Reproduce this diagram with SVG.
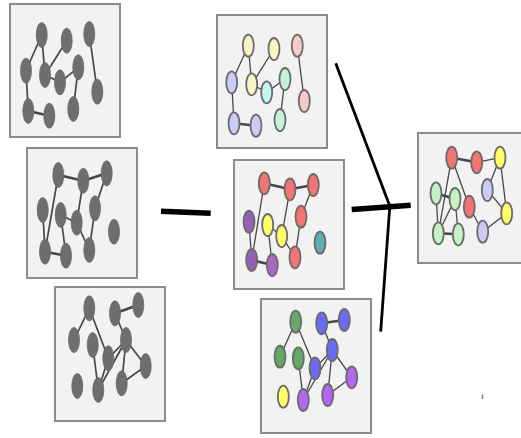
<svg xmlns="http://www.w3.org/2000/svg" width="521" height="438" viewBox="0 0 521 438">
<style>
.panel{fill:#f2f2f2;stroke:#8c8c8c;stroke-width:2}
.e{stroke:#474747;stroke-width:1.3;fill:none}
.t{stroke:#474747;stroke-width:2.6;fill:none}
.g .e{stroke-width:1.7}
.g ellipse{fill:#6e6e6e;stroke:#6a6a6a;stroke-width:0.8}
.c ellipse{stroke:#6b6b6b;stroke-width:1.8}
.conn{stroke:#000;fill:none;stroke-linecap:butt}
.yl{fill:#f7f7c4}.pk{fill:#f7caca}.lv{fill:#cccbf7}.cy{fill:#c4f7f2}.mn{fill:#c4f2d9}
.rd{fill:#f47373}.dp{fill:#9462b2}.ye{fill:#ffff6a}.tl{fill:#62adad}.pp{fill:#a868c2}
.gr{fill:#66a866}.bl{fill:#6b6bf7}.vi{fill:#b266f2}.lg{fill:#c4f2c4}
</style>

<!-- Panel 1 -->
<g id="panel1" class="g">
<rect class="panel" x="10" y="4" width="110" height="133"/>
<path class="e" d="M41.7 35L26 70.7M41.7 35L45 75M66.7 40.7L45 75M45 75L60 82.3M60 82.3L78.3 67.3M78.3 67.3L73.3 109M89.3 34L97.3 91.7M26 70.7L28.3 111"/>
<path class="t" d="M28.3 111L49.3 115.7"/>
<ellipse cx="41.7" cy="35" rx="5.5" ry="12.5"/>
<ellipse cx="66.7" cy="40.7" rx="5.5" ry="12.5"/>
<ellipse cx="89.3" cy="34" rx="5.5" ry="12.5"/>
<ellipse cx="26" cy="70.7" rx="5.5" ry="12.5"/>
<ellipse cx="45" cy="75" rx="5.5" ry="12.5"/>
<ellipse cx="60" cy="82.3" rx="5.5" ry="12.5"/>
<ellipse cx="78.3" cy="67.3" rx="5.5" ry="12.5"/>
<ellipse cx="97.3" cy="91.7" rx="5.5" ry="12.5"/>
<ellipse cx="28.3" cy="111" rx="5.5" ry="12.5"/>
<ellipse cx="49.3" cy="115.7" rx="5.5" ry="12.5"/>
<ellipse cx="73.3" cy="109" rx="5.5" ry="12.5"/>
</g>

<!-- Panel 2 -->
<g id="panel2" class="g">
<rect class="panel" x="27" y="148" width="110" height="130"/>
<path class="e" d="M58.3 175L45 251.7M42.7 210L45 251.7M60.7 215L76.7 222.7M60.7 215L66 255.7M83.3 180.7L76.7 222.7M76.7 222.7L89.3 250M106.7 173.3L95 208.3M95 208.3L89.3 250"/>
<path class="t" d="M58.3 175L83.3 180.7M83.3 180.7L106.7 173.3M45 251.7L66 255.7"/>
<ellipse cx="58.3" cy="175" rx="5.5" ry="12.5"/>
<ellipse cx="83.3" cy="180.7" rx="5.5" ry="12.5"/>
<ellipse cx="106.7" cy="173.3" rx="5.5" ry="12.5"/>
<ellipse cx="42.7" cy="210" rx="5.5" ry="12.5"/>
<ellipse cx="60.7" cy="215" rx="5.5" ry="12.5"/>
<ellipse cx="76.7" cy="222.7" rx="5.5" ry="12.5"/>
<ellipse cx="95" cy="208.3" rx="5.5" ry="12.5"/>
<ellipse cx="114" cy="231.7" rx="5.5" ry="12.5"/>
<ellipse cx="45" cy="251.7" rx="5.5" ry="12.5"/>
<ellipse cx="66" cy="255.7" rx="5.5" ry="12.5"/>
<ellipse cx="89.3" cy="250" rx="5.5" ry="12.5"/>
</g>

<!-- Panel 3 -->
<g id="panel3" class="g">
<rect class="panel" x="55" y="287" width="110" height="134"/>
<path class="e" d="M89.3 308.3L74 340M89.3 308.3L108.3 358.3M115 313.3L126 340M126 340L108.3 358.3M92.7 345L98.3 390M108.3 358.3L98.3 390M126 340L98.3 390M126 340L121.7 383.3M126 340L145.7 366M145.7 366L121.7 383.3"/>
<path class="t" d="M115 313.3L138.3 305"/>
<ellipse cx="89.3" cy="308.3" rx="5.5" ry="12.5"/>
<ellipse cx="115" cy="313.3" rx="5.5" ry="12.5"/>
<ellipse cx="138.3" cy="305" rx="5.5" ry="12.5"/>
<ellipse cx="74" cy="340" rx="5.5" ry="12.5"/>
<ellipse cx="92.7" cy="345" rx="5.5" ry="12.5"/>
<ellipse cx="108.3" cy="358.3" rx="5.5" ry="12.5"/>
<ellipse cx="126" cy="340" rx="5.5" ry="12.5"/>
<ellipse cx="145.7" cy="366" rx="5.5" ry="12.5"/>
<ellipse cx="77.3" cy="386" rx="5.5" ry="12.5"/>
<ellipse cx="98.3" cy="390" rx="5.5" ry="12.5"/>
<ellipse cx="121.7" cy="383.3" rx="5.5" ry="12.5"/>
</g>

<!-- Panel 4 -->
<g id="panel4" class="c">
<rect class="panel" x="217" y="15" width="110" height="133"/>
<path class="e" d="M248.3 45.7L231.7 82.3M248.3 45.7L251.7 84.3M274 49L251.7 84.3M251.7 84.3L266.7 92.3M266.7 92.3L285 79M285 79L280 120M297.3 45.7L304.3 101M231.7 82.3L234 123.3"/>
<path class="t" d="M234 123.3L256 125.7"/>
<ellipse class="yl" cx="248.3" cy="45.7" rx="5.5" ry="11"/>
<ellipse class="yl" cx="274" cy="49" rx="5.5" ry="11"/>
<ellipse class="pk" cx="297.3" cy="45.7" rx="5.5" ry="11"/>
<ellipse class="lv" cx="231.7" cy="82.3" rx="5.5" ry="11"/>
<ellipse class="yl" cx="251.7" cy="84.3" rx="5.5" ry="11"/>
<ellipse class="cy" cx="266.7" cy="92.3" rx="5.5" ry="11"/>
<ellipse class="mn" cx="285" cy="79" rx="5.5" ry="11"/>
<ellipse class="pk" cx="304.3" cy="101" rx="5.5" ry="11"/>
<ellipse class="lv" cx="234" cy="123.3" rx="5.5" ry="11"/>
<ellipse class="lv" cx="256" cy="125.7" rx="5.5" ry="11"/>
<ellipse class="mn" cx="280" cy="120" rx="5.5" ry="11"/>
</g>

<!-- Panel 5 -->
<g id="panel5" class="c">
<rect class="panel" x="234" y="160" width="110" height="129"/>
<path class="e" d="M264.3 183.3L251.7 260M249 221.7L251.7 260M267.7 225L281.7 236M267.7 225L272.3 265M290 189.3L281.7 236M281.7 236L295 257.3M313.3 185L301 216.7M301 216.7L295 257.3"/>
<path class="t" d="M264.3 183.3L290 189.3M290 189.3L313.3 185M251.7 260L272.3 265"/>
<ellipse class="rd" cx="264.3" cy="183.3" rx="5.5" ry="11"/>
<ellipse class="rd" cx="290" cy="189.3" rx="5.5" ry="11"/>
<ellipse class="rd" cx="313.3" cy="185" rx="5.5" ry="11"/>
<ellipse class="dp" cx="249" cy="221.7" rx="5.5" ry="11"/>
<ellipse class="ye" cx="267.7" cy="225" rx="5.5" ry="11"/>
<ellipse class="ye" cx="281.7" cy="236" rx="5.5" ry="11"/>
<ellipse class="rd" cx="301" cy="216.7" rx="5.5" ry="11"/>
<ellipse class="tl" cx="320" cy="242.7" rx="5.5" ry="11"/>
<ellipse class="dp" cx="251.7" cy="260" rx="5.5" ry="11"/>
<ellipse class="pp" cx="272.3" cy="265" rx="5.5" ry="11"/>
<ellipse class="rd" cx="295" cy="257.3" rx="5.5" ry="11"/>
</g>

<!-- Panel 6 -->
<g id="panel6" class="c">
<rect class="panel" x="261" y="299" width="110" height="134"/>
<path class="e" d="M295.7 321.7L280 356.7M295.7 321.7L315 368.3M321.7 323.3L332.3 350M332.3 350L315 368.3M298.3 358.3L303.3 400M315 368.3L303.3 400M332.3 350L303.3 400M332.3 350L327.7 395M332.3 350L351.7 377.3M351.7 377.3L327.7 395"/>
<path class="t" d="M321.7 323.3L344.3 320"/>
<ellipse class="gr" cx="295.7" cy="321.7" rx="5.5" ry="11"/>
<ellipse class="bl" cx="321.7" cy="323.3" rx="5.5" ry="11"/>
<ellipse class="bl" cx="344.3" cy="320" rx="5.5" ry="11"/>
<ellipse class="gr" cx="280" cy="356.7" rx="5.5" ry="11"/>
<ellipse class="gr" cx="298.3" cy="358.3" rx="5.5" ry="11"/>
<ellipse class="bl" cx="315" cy="368.3" rx="5.5" ry="11"/>
<ellipse class="bl" cx="332.3" cy="350" rx="5.5" ry="11"/>
<ellipse class="vi" cx="351.7" cy="377.3" rx="5.5" ry="11"/>
<ellipse class="ye" cx="283.3" cy="396.7" rx="5.5" ry="11"/>
<ellipse class="vi" cx="303.3" cy="400" rx="5.5" ry="11"/>
<ellipse class="vi" cx="327.7" cy="395" rx="5.5" ry="11"/>
</g>

<!-- Panel 7 -->
<g id="panel7" class="c">
<rect class="panel" x="418" y="133" width="104" height="130"/>
<path class="e" d="M476.7 162.3L500 157.7M451.7 157.7L438.3 233.3M451.7 157.7L469.3 206.7M436 193.3L438.3 233.3M455 199L438.3 233.3M455 199L458.3 234.3M500 157.7L487.3 190M500 157.7L506.7 213.3M487.3 190L506.7 213.3M469.3 206.7L482.7 231.7M482.7 231.7L506.7 213.3"/>
<path class="t" d="M451.7 157.7L476.7 162.3M436 193.3L455 199M438.3 233.3L458.3 234.3"/>
<ellipse class="rd" cx="451.7" cy="157.7" rx="5.5" ry="11"/>
<ellipse class="rd" cx="476.7" cy="162.3" rx="5.5" ry="11"/>
<ellipse class="ye" cx="500" cy="157.7" rx="5.5" ry="11"/>
<ellipse class="lg" cx="436" cy="193.3" rx="5.5" ry="11"/>
<ellipse class="lg" cx="455" cy="199" rx="5.5" ry="11"/>
<ellipse class="rd" cx="469.3" cy="206.7" rx="5.5" ry="11"/>
<ellipse class="lv" cx="487.3" cy="190" rx="5.5" ry="11"/>
<ellipse class="ye" cx="506.7" cy="213.3" rx="5.5" ry="11"/>
<ellipse class="lg" cx="438.3" cy="233.3" rx="5.5" ry="11"/>
<ellipse class="lg" cx="458.3" cy="234.3" rx="5.5" ry="11"/>
<ellipse class="lv" cx="482.7" cy="231.7" rx="5.5" ry="11"/>
</g>

<!-- Connectors -->
<g id="connectors" class="conn">
<path d="M161 211.3L210.7 213.3" stroke-width="5.5"/>
<path d="M351.7 209.5L410.7 205.2" stroke-width="5.5"/>
<path d="M335.7 63.3L389 204" stroke-width="2.8"/>
<path d="M390 203.5L380.7 331.7" stroke-width="2.8"/>
<path d="M482.7 394.5L482.3 399" stroke="#888" stroke-width="1.5"/>
</g>
</svg>
